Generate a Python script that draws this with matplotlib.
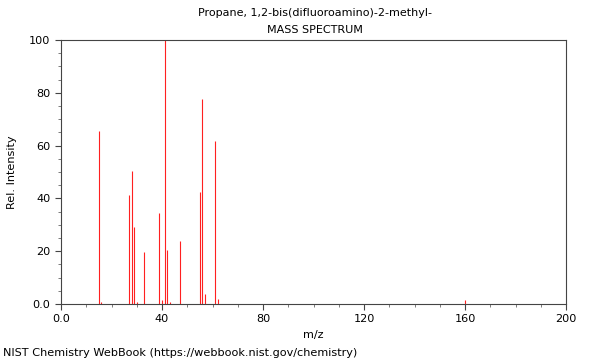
import matplotlib
matplotlib.use("Agg")
import matplotlib.pyplot as plt
from matplotlib.ticker import MultipleLocator, FuncFormatter

# peak list
mz = [15, 16, 27, 28, 29, 30, 33, 39, 40, 41, 42, 43, 47, 55, 56, 57, 61, 62, 160]
intensity = [65.4, 0.8, 41.3, 50.2, 29.2, 0.8, 19.6, 34.3, 1.4, 100, 20.6, 0.8, 23.9,
             42.4, 77.5, 3.7, 61.7, 1.9, 1.5]

title_lines = ["Propane, 1,2-bis(difluoroamino)-2-methyl-", "MASS SPECTRUM"]

plt.rcParams['font.family'] = ['DejaVu Sans']
plt.rcParams['font.size'] = 8.15

fig = plt.figure(figsize=(6, 3.6), dpi=100)
ax = fig.add_axes([61/600, 1 - 304/360, 505/600, 264/360])

ax.vlines(mz, 0, intensity, colors='#ff2020', linewidth=0.8)

ax.set_xlim(0, 200)
ax.set_ylim(0, 100)
ax.xaxis.set_major_locator(MultipleLocator(40))
ax.xaxis.set_minor_locator(MultipleLocator(10))
ax.yaxis.set_major_locator(MultipleLocator(20))
ax.yaxis.set_minor_locator(MultipleLocator(5))
fmt = FuncFormatter(lambda v, p: "0.0" if v == 0 else "%d" % v)
ax.xaxis.set_major_formatter(fmt)
ax.yaxis.set_major_formatter(fmt)
ax.tick_params(which='major', length=4, width=0.8, color='#444444')
ax.tick_params(which='minor', length=2, width=0.6, color='#666666')
for s in ax.spines.values():
    s.set_color('#444444')
    s.set_linewidth(0.8)

ax.set_xlabel("m/z", labelpad=4)
ax.set_ylabel("Rel. Intensity", labelpad=9)

fig.text(0.525, 1 - 13/360, title_lines[0], ha='center', va='center', fontsize=8)
fig.text(0.525, 1 - 30/360, title_lines[1], ha='center', va='center', fontsize=8)
fig.text(3/600, 1 - 353/360, "NIST Chemistry WebBook (https://webbook.nist.gov/chemistry)",
         ha='left', va='center')

fig.savefig("out.png", dpi=100)
